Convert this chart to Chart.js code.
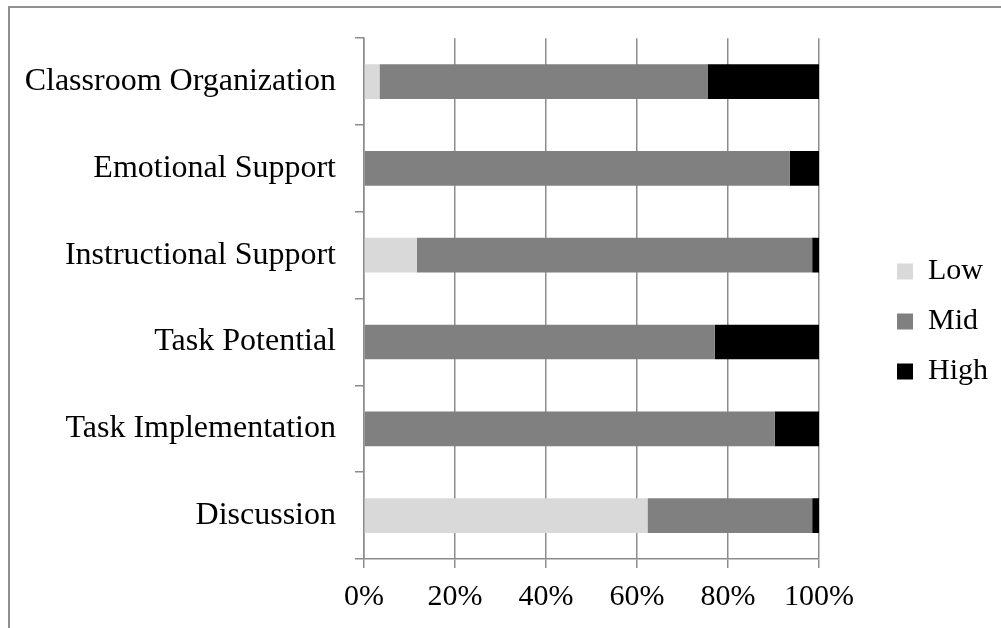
<!DOCTYPE html>
<html>
<head>
<meta charset="utf-8">
<script src="https://cdn.jsdelivr.net/npm/chart.js@4/dist/chart.umd.min.js"></script>
<style>
    html, body { margin: 0; padding: 0; background: #fff; }
    .wrap { position: relative; width: 1001px; height: 628px; overflow: hidden; }
    .frame { position: absolute; left: 8px; top: 6px; right: -4px; bottom: -4px;
             border-left: 2px solid #8f8f8f; border-top: 2px solid #8f8f8f; }
    canvas { position: absolute; left: 0; top: 0; }
</style>
</head>
<body>
<div class="wrap">
    <div class="frame"></div>
    <canvas id="qualityChart" width="1001" height="628"></canvas>
</div>
<script>
// Share of ratings per observation dimension (percent)
const dimensions = ['Classroom Organization', 'Emotional Support', 'Instructional Support',
                    'Task Potential', 'Task Implementation', 'Discussion'];
const lowShare  = [3.4, 0, 11.6, 0, 0, 62.3];
const midShare  = [72.1, 93.6, 86.9, 77.1, 90.3, 36.2];
const highShare = [24.5, 6.4, 1.5, 22.9, 9.7, 1.5];
const percentTicks = [0, 20, 40, 60, 80, 100];

const gridGray = '#8c8c8c';
const serif = 'Liberation Serif, Times New Roman, serif';

function series(label, data, color) {
    return {
        label: label,
        data: data,
        backgroundColor: color,
        borderWidth: 0,
        barPercentage: 0.4,
        categoryPercentage: 1
    };
}

const ctx = document.getElementById('qualityChart').getContext('2d');
new Chart(ctx, {
    type: 'bar',
    data: {
        labels: dimensions,
        datasets: [
            series('Low', lowShare, '#d9d9d9'),
            series('Mid', midShare, '#808080'),
            series('High', highShare, '#000000')
        ]
    },
    options: {
        indexAxis: 'y',
        responsive: false,
        animation: false,
        layout: {
            padding: { left: 24, top: 34, right: 3, bottom: 19 }
        },
        scales: {
            x: {
                stacked: true,
                min: 0,
                max: 100,
                afterBuildTicks: axis => {
                    axis.ticks = percentTicks.map(v => ({ value: v }));
                },
                afterFit: axis => { axis.height = 50; },
                grid: {
                    color: gridGray,
                    lineWidth: 1.5,
                    tickLength: 9
                },
                border: { color: gridGray, width: 1.5 },
                ticks: {
                    color: '#000',
                    padding: 11,
                    maxRotation: 0,
                    font: { family: serif, size: 30 },
                    callback: v => v + '%'
                }
            },
            y: {
                stacked: true,
                afterFit: axis => { axis.width = 340; },
                grid: {
                    color: gridGray,
                    lineWidth: 1.5,
                    drawOnChartArea: false,
                    tickLength: 9,
                    offset: true
                },
                border: { color: gridGray, width: 1.5 },
                ticks: {
                    color: '#000',
                    padding: 19,
                    font: { family: serif, size: 32 }
                }
            },
            // empty right-hand axis: keeps the legend clear of the plot
            spacer: {
                type: 'linear',
                axis: 'y',
                position: 'right',
                afterFit: axis => { axis.width = 58; },
                grid: { display: false },
                border: { display: false },
                ticks: { display: false }
            }
        },
        plugins: {
            tooltip: { enabled: false },
            legend: {
                position: 'right',
                align: 'center',
                labels: {
                    color: '#000',
                    boxWidth: 16,
                    boxHeight: 16,
                    padding: 20,
                    font: { family: serif, size: 30 }
                }
            }
        }
    }
});
</script>
</body>
</html>
